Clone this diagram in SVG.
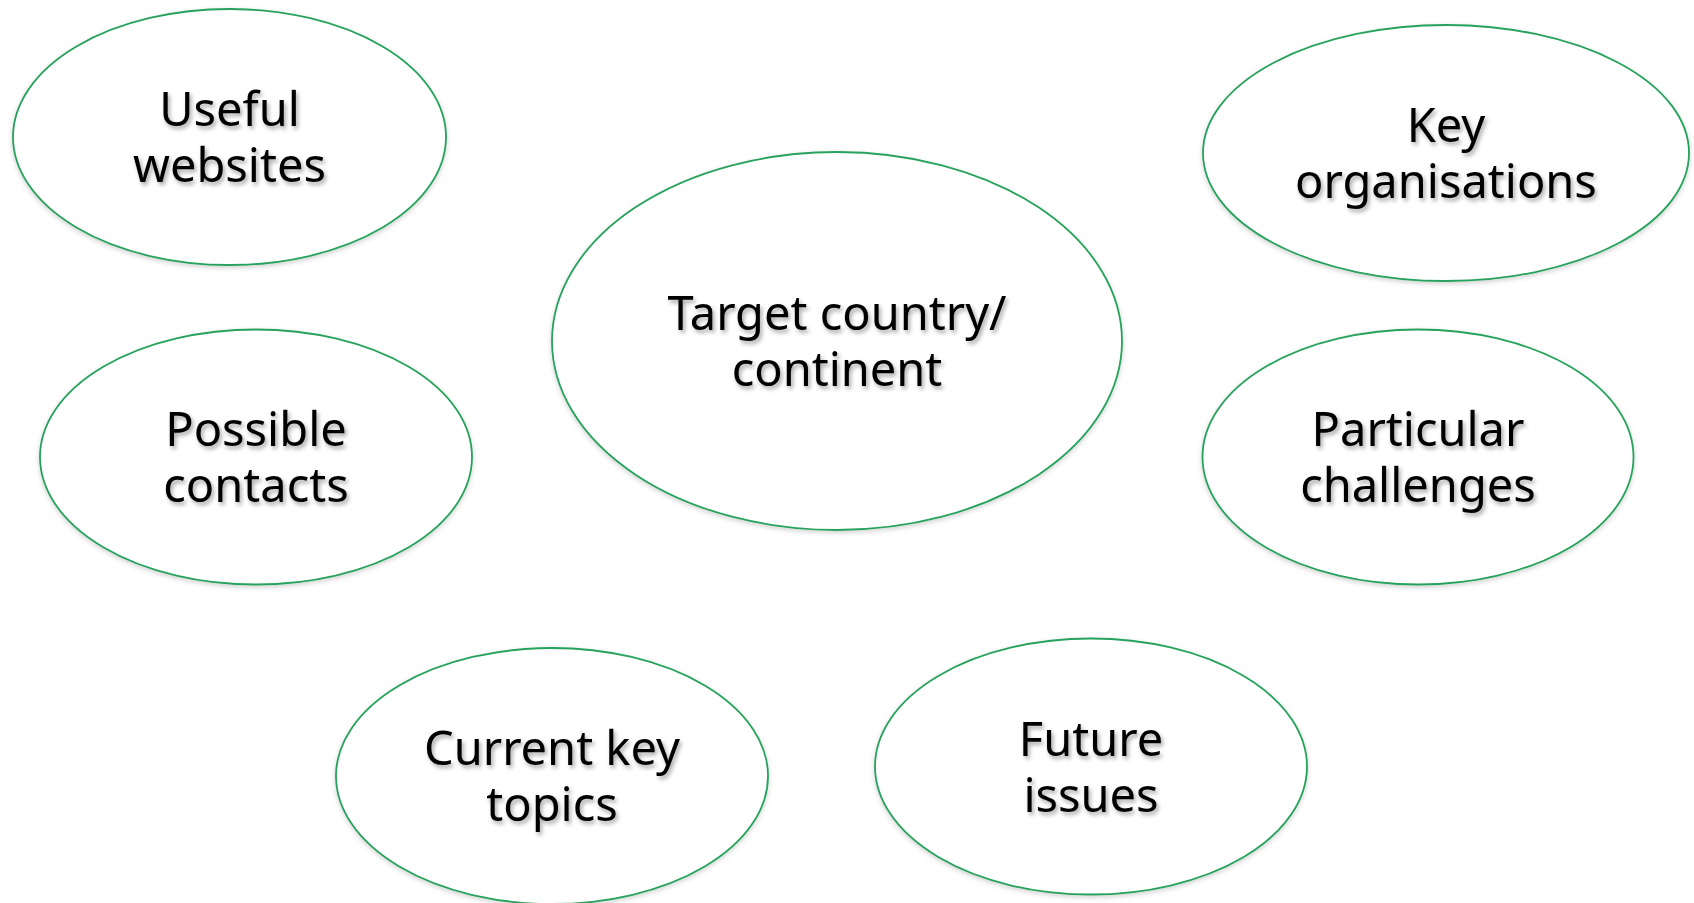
<svg xmlns="http://www.w3.org/2000/svg" width="1694" height="903" viewBox="0 0 1694 903">
<defs>
<filter id="ts" x="-10%" y="-30%" width="130%" height="170%">
<feDropShadow dx="2" dy="3" stdDeviation="2" flood-color="#000" flood-opacity="0.35"/>
</filter>
<filter id="es" x="-5%" y="-5%" width="110%" height="115%">
<feDropShadow dx="0" dy="2" stdDeviation="2.5" flood-color="#000" flood-opacity="0.18"/>
</filter>
</defs>
<style>
.node ellipse{fill:#fff;stroke:#27a25c;stroke-width:1.8;filter:url(#es)}
.node text{font-family:"Noto Sans","Open Sans",sans-serif;font-size:47px;fill:#000;text-anchor:middle;filter:url(#ts)}
</style>
<rect width="1694" height="903" fill="#fff"/>
<g id="connectors"></g>
<g id="useful-websites" class="node">
<ellipse cx="229.5" cy="137" rx="216.5" ry="128"/>
<text x="229.5" y="126">Useful<tspan x="229.5" dy="56">websites</tspan></text>
</g>
<g id="key-organisations" class="node">
<ellipse cx="1446" cy="153" rx="243" ry="128"/>
<text x="1446" y="142">Key<tspan x="1446" dy="56">organisations</tspan></text>
</g>
<g id="target" class="node">
<ellipse cx="837" cy="341" rx="285" ry="189"/>
<text x="837" y="330">Target country/<tspan x="837" dy="56">continent</tspan></text>
</g>
<g id="possible-contacts" class="node">
<ellipse cx="256" cy="457" rx="216" ry="127.5"/>
<text x="256" y="446">Possible<tspan x="256" dy="56">contacts</tspan></text>
</g>
<g id="particular-challenges" class="node">
<ellipse cx="1418" cy="457" rx="215.5" ry="127.5"/>
<text x="1418" y="446">Particular<tspan x="1418" dy="56">challenges</tspan></text>
</g>
<g id="current-key-topics" class="node">
<ellipse cx="552" cy="776" rx="216" ry="128"/>
<text x="552" y="765">Current key<tspan x="552" dy="56">topics</tspan></text>
</g>
<g id="future-issues" class="node">
<ellipse cx="1091" cy="766.5" rx="216" ry="128"/>
<text x="1091" y="755.5">Future<tspan x="1091" dy="56">issues</tspan></text>
</g>
</svg>
